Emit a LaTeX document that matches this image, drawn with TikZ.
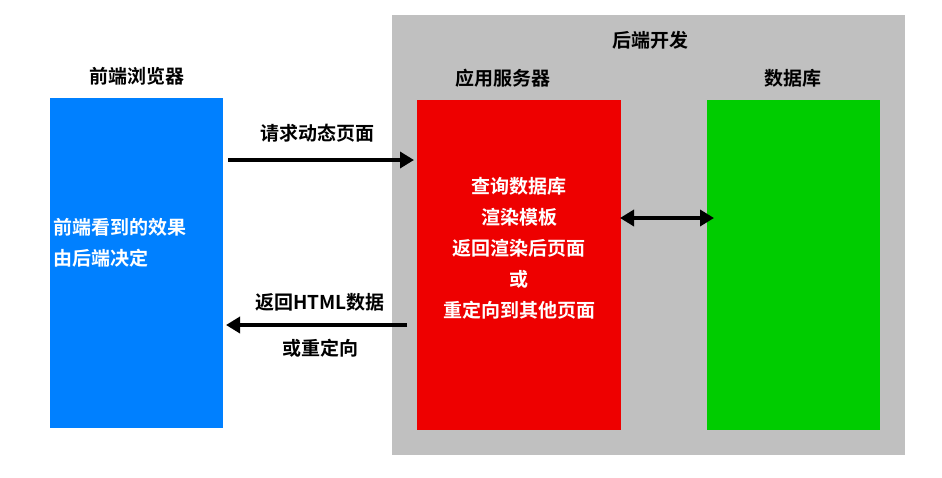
\documentclass[tikz,border=0pt]{standalone}
\usepackage{fontspec}
\setmainfont{Noto Sans CJK SC}[BoldFont={Noto Sans CJK SC Bold}]
\usetikzlibrary{arrows.meta}
\definecolor{panelgray}{RGB}{192,192,192}
\definecolor{browserblue}{RGB}{0,128,255}
\definecolor{serverred}{RGB}{238,0,0}
\definecolor{dbgreen}{RGB}{0,204,0}
\tikzset{
  title/.style={font=\bfseries\fontsize{19}{22}\selectfont},
  inner/.style={font=\bfseries\fontsize{19}{31}\selectfont, text=white, align=center},
  flow/.style={line width=4pt, -{Triangle[length=14pt,width=16pt]}},
}
\begin{document}
\begin{tikzpicture}[x=1pt,y=-1pt]

  \useasboundingbox[fill=white] (0,0) rectangle (942,477);
  \fill[panelgray] (392,15) rectangle (905,455);
  \node[title] (backend) at (650,40) {后端开发};

  \fill[browserblue] (50,98) rectangle (223,428);
  \fill[serverred] (417,100) rectangle (621,430);
  \fill[dbgreen] (707,100) rectangle (880,430);

  \node[title] (browser) at (137,76) {前端浏览器};
  \node[title] (server) at (503,78) {应用服务器};
  \node[title] (db) at (793,78) {数据库};

  \node[inner, align=left, anchor=west] (effect) at (50,243) {前端看到的效果\\由后端决定};
  \node[inner] (steps) at (519,248) {查询数据库\\渲染模板\\返回渲染后页面\\或\\重定向到其他页面};

  \coordinate (req1) at (228,160);
  \coordinate (req2) at (414,160);
  \coordinate (res1) at (407,325);
  \coordinate (res2) at (226,325);
  \coordinate (q1) at (620,218);
  \coordinate (q2) at (714,218);

  \draw[flow] (req1) -- (req2);
  \draw[flow] (res1) -- (res2);
  \draw[flow, {Triangle[length=14pt,width=16pt]}-{Triangle[length=14pt,width=16pt]}] (q1) -- (q2);

  \node[title] (ask) at (317,133) {请求动态页面};
  \node[title] (reply) at (320,302) {返回HTML数据};
  \node[title] (redir) at (320,348) {或重定向};

\end{tikzpicture}
\end{document}
